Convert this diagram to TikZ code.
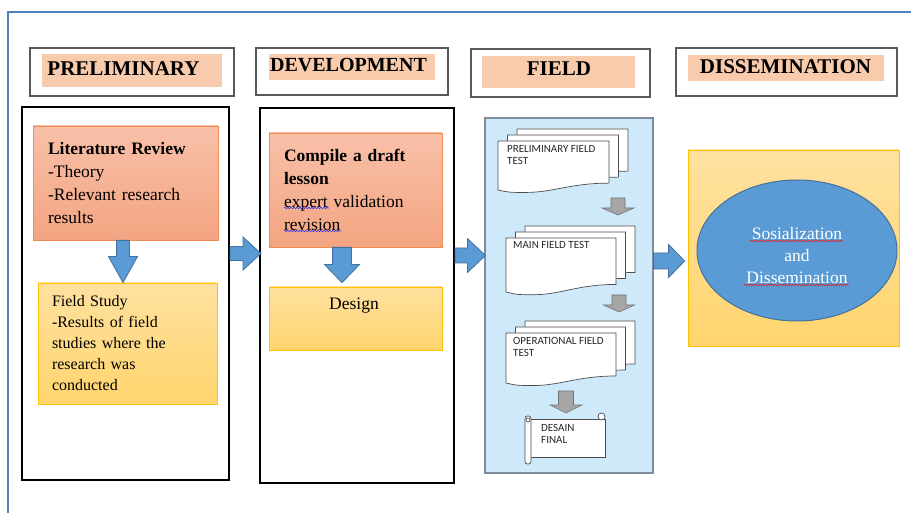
\documentclass[tikz,border=0pt]{standalone}
\usepackage{fontspec}
\setmainfont{Liberation Serif}
\newfontfamily\docfont{Carlito}
\usetikzlibrary{shapes.geometric,calc,decorations.pathmorphing}

\definecolor{frameblue}{RGB}{79,129,189}
\definecolor{peach}{RGB}{248,203,173}
\definecolor{salmontop}{RGB}{248,192,168}
\definecolor{salmonbot}{RGB}{244,165,130}
\definecolor{salmonline}{RGB}{240,140,80}
\definecolor{yellowtop}{RGB}{255,225,160}
\definecolor{yellowbot}{RGB}{255,213,110}
\definecolor{yellowline}{RGB}{255,192,0}
\definecolor{fieldblue}{RGB}{206,234,250}
\definecolor{fieldline}{RGB}{127,140,155}
\definecolor{arrowblue}{RGB}{91,155,213}
\definecolor{arrowline}{RGB}{65,113,156}
\definecolor{arrowgray}{RGB}{166,166,166}
\definecolor{hdrgray}{RGB}{89,89,89}
\definecolor{spellblue}{RGB}{60,60,230}
\definecolor{spellred}{RGB}{220,30,30}

% block arrows: style, start, tip, shaft half, head half, head length
\newcommand{\varrow}[6]{%
  \draw[#1] let \p1=(#2), \p2=(#3) in
    (\x1-#4,\y1) -- (\x1-#4,\y2+#6) -- (\x1-#5,\y2+#6) -- (\x1,\y2)
    -- (\x1+#5,\y2+#6) -- (\x1+#4,\y2+#6) -- (\x1+#4,\y1) -- cycle;}
\newcommand{\harrow}[6]{%
  \draw[#1] let \p1=(#2), \p2=(#3) in
    (\x1,\y1-#4) -- (\x2-#6,\y1-#4) -- (\x2-#6,\y1-#5) -- (\x2,\y1)
    -- (\x2-#6,\y1+#5) -- (\x2-#6,\y1+#4) -- (\x1,\y1+#4) -- cycle;}
% one page with a wavy bottom: x, y, w, h
\newcommand{\docpage}[4]{%
  \filldraw[docline] (#1,#2) -- (#1+#3,#2) -- (#1+#3,#2+0.86*#4)
    .. controls (#1+0.65*#3,#2+0.86*#4) and (#1+0.5*#3,#2+1.05*#4) .. (#1+0.25*#3,#2+1.05*#4)
    .. controls (#1+0.1*#3,#2+1.05*#4) .. (#1,#2+#4) -- cycle;}
\newcommand{\docstack}[4]{%
  \docpage{#1+19}{#2-12}{#3}{#4}
  \docpage{#1+9.5}{#2-6}{#3}{#4}
  \docpage{#1}{#2}{#3}{#4}}

\begin{document}
\begin{tikzpicture}[x=1pt,y=-1pt,
  hdrframe/.style={draw=hdrgray, line width=1.2pt, fill=white, inner sep=0pt},
  hdrfill/.style={fill=peach, inner sep=0pt},
  hdrtext/.style={font=\fontsize{21}{25}\selectfont\bfseries, inner sep=0pt, anchor=base},
  column/.style={draw=black, line width=2pt, inner sep=0pt},
  salmonbox/.style={top color=salmontop, bottom color=salmonbot, draw=salmonline, line width=0.8pt},
  yellowbox/.style={top color=yellowtop, bottom color=yellowbot, draw=yellowline, line width=0.8pt},
  bodytext/.style={align=left, inner xsep=15pt},
  bluearrow/.style={fill=arrowblue, draw=arrowline, line width=0.8pt},
  grayarrow/.style={fill=arrowgray, draw=black!55, line width=0.6pt},
  docline/.style={fill=white, draw=black!70, line width=0.7pt},
  doctext/.style={font=\docfont\fontsize{11}{11.5}\selectfont, text=black!85, align=left, inner sep=0pt, anchor=north west},
  spell/.style={decorate, decoration={snake, amplitude=0.8pt, segment length=3pt}, line width=0.6pt}
]
\useasboundingbox (0,0) rectangle (911,513);
\fill[white] (0,0) rectangle (911,513);
\draw[frameblue, line width=2pt] (911,12) -- (8,12) -- (8,513);

% headers
\node[hdrframe, minimum width=204pt, minimum height=48pt] (hpre) at (132,72) {};
\node[hdrfill, minimum width=180pt, minimum height=33pt] (fpre) at (132,70.5) {};
\node[hdrtext] (tpre) at (123.5,76) {PRELIMINARY};
\node[hdrframe, minimum width=192pt, minimum height=47pt] (hdev) at (352,71.5) {};
\node[hdrfill, minimum width=166pt, minimum height=26pt] (fdev) at (352,67) {};
\node[hdrtext, font=\fontsize{20}{24}\selectfont\bfseries] (tdev) at (348.5,72) {DEVELOPMENT};
\node[hdrframe, minimum width=179pt, minimum height=48pt] (hfld) at (560.5,73) {};
\node[hdrfill, minimum width=153pt, minimum height=32pt] (ffld) at (558.5,72) {};
\node[hdrtext] (tfld) at (559,76) {FIELD};
\node[hdrframe, minimum width=221pt, minimum height=48pt] (hdis) at (786.5,72) {};
\node[hdrfill, minimum width=196pt, minimum height=26pt] (fdis) at (786,68) {};
\node[hdrtext] (tdis) at (785.5,74) {DISSEMINATION};

% preliminary
\node[column, minimum width=207pt, minimum height=373pt] (prel) at (125.5,293.5) {};
\node[salmonbox, bodytext, text width=155pt, minimum width=185pt, minimum height=114pt,
  font=\fontsize{17.5}{23}\selectfont] (lit) at (125.5,183)
  {\textbf{Literature Review}\\-Theory\\-Relevant research\\results};
\node[yellowbox, bodytext, inner xsep=14pt, text width=151pt, minimum width=179pt, minimum height=121pt,
  font=\fontsize{16}{21}\selectfont] (fs) at (127.5,343.5)
  {Field Study\\-Results of field\\studies where the\\research was\\conducted};
\varrow{bluearrow}{[xshift=-2.5pt]lit.south}{fs.north}{6.5pt}{14.5pt}{26pt}

% development
\node[column, minimum width=194pt, minimum height=375pt] (dev) at (357,295.5) {};
\node[salmonbox, bodytext, text width=143pt, minimum width=173pt, minimum height=114pt,
  font=\fontsize{17.5}{23}\selectfont] (cmp) at (355.5,190)
  {\textbf{Compile a draft}\\\textbf{lesson}\\expert validation\\revision};
\draw[spellblue, spell] (284,208) -- (329,208);
\draw[spellblue, spell] (284,231) -- (341,231);
\node[yellowbox, minimum width=173pt, minimum height=63pt] (des) at (355.5,318.5) {};
\node[font=\fontsize{17.5}{21}\selectfont, anchor=base, inner sep=0pt] (destxt) at (354,310) {Design};
\varrow{bluearrow}{[xshift=-13.5pt]cmp.south}{[yshift=4pt]des.north}{9.5pt}{17.5pt}{18pt}

% field
\node[fill=fieldblue, draw=fieldline, line width=1.2pt, inner sep=0pt,
  minimum width=168pt, minimum height=355pt] (fld) at (569,295.5) {};
\docstack{498}{141}{111}{49}
\node[doctext] (pft) at (507,145.5) {PRELIMINARY FIELD\\TEST};
\docstack{506}{238}{110}{54}
\node[doctext] (mft) at (513,241.5) {MAIN FIELD TEST};
\docstack{506}{333}{110}{50}
\node[doctext] (oft) at (513,337.5) {OPERATIONAL FIELD\\TEST};
\coordinate (g1a) at (618,198); \coordinate (g1b) at (618,215);
\coordinate (g2a) at (619,295); \coordinate (g2b) at (619,312);
\coordinate (g3a) at (566,391); \coordinate (g3b) at (566,413);
\varrow{grayarrow}{g1a}{g1b}{7pt}{16pt}{7pt}
\varrow{grayarrow}{g2a}{g2b}{7pt}{15.5pt}{7pt}
\varrow{grayarrow}{g3a}{g3b}{7.5pt}{16pt}{8pt}
% scroll
\filldraw[docline] (528,419) rectangle (605,457);
\filldraw[docline, rounded corners=2.5pt] (525,416) rectangle (531,464);
\draw[docline] (528,420) circle (2pt);
\filldraw[docline] (601.5,416.5) circle (3.5pt);
\node[doctext] (dsf) at (541,424.5) {DESAIN\\FINAL};

% dissemination
\node[yellowbox, minimum width=211pt, minimum height=196pt] (dis) at (793.5,248) {};
\node[ellipse, fill=arrowblue, draw=arrowline, line width=1pt,
  minimum width=200pt, minimum height=141pt] (sos) at (797,250.5) {};
\node[text=white, align=center, font=\fontsize{17.5}{22}\selectfont] (sostxt) at ([yshift=-5pt]sos.center)
  {Sosialization\\and\\Dissemination};
\draw[spellred, spell] (750,241) -- (843,241);
\draw[spellred, spell] (744,285) -- (849,285);

% arrows between stages
\harrow{bluearrow}{[yshift=40pt]prel.east}{[xshift=2pt]dev.west}{7pt}{16.5pt}{18pt}
\harrow{bluearrow}{[yshift=40pt]dev.east}{[xshift=1pt]fld.west}{7.5pt}{17pt}{18pt}
\harrow{bluearrow}{[yshift=34.5pt]fld.east}{[xshift=-3pt]dis.west}{8pt}{16.5pt}{16pt}
\end{tikzpicture}
\end{document}
